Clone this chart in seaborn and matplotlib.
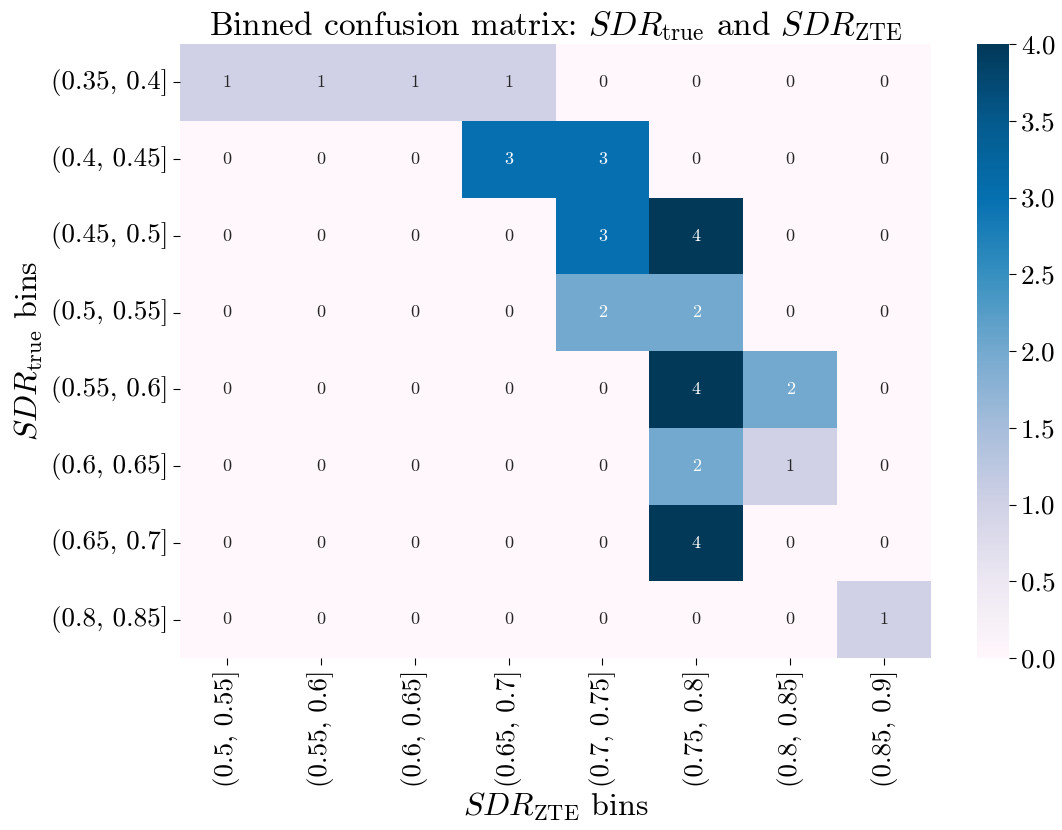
import numpy as np
import pandas as pd
import seaborn as sns
import matplotlib
matplotlib.use("Agg")
import matplotlib.pyplot as plt

row_labels = ["(0.35, 0.4]", "(0.4, 0.45]", "(0.45, 0.5]", "(0.5, 0.55]",
              "(0.55, 0.6]", "(0.6, 0.65]", "(0.65, 0.7]", "(0.8, 0.85]"]
col_labels = ["(0.5, 0.55]", "(0.55, 0.6]", "(0.6, 0.65]", "(0.65, 0.7]",
              "(0.7, 0.75]", "(0.75, 0.8]", "(0.8, 0.85]", "(0.85, 0.9]"]
counts = [
    [1, 1, 1, 1, 0, 0, 0, 0],
    [0, 0, 0, 3, 3, 0, 0, 0],
    [0, 0, 0, 0, 3, 4, 0, 0],
    [0, 0, 0, 0, 2, 2, 0, 0],
    [0, 0, 0, 0, 0, 4, 2, 0],
    [0, 0, 0, 0, 0, 2, 1, 0],
    [0, 0, 0, 0, 0, 4, 0, 0],
    [0, 0, 0, 0, 0, 0, 0, 1],
]
cbar_ticks = [0, 0.5, 1, 1.5, 2, 2.5, 3, 3.5, 4]
cbar_labels = ["0.0", "0.5", "1.0", "1.5", "2.0", "2.5", "3.0", "3.5", "4.0"]

plt.rcParams['font.family'] = 'serif'
plt.rcParams['font.serif'] = ['cmr10', 'DejaVu Serif']
plt.rcParams['mathtext.fontset'] = 'cm'
plt.rcParams['axes.formatter.use_mathtext'] = True

df = pd.DataFrame(counts, index=row_labels, columns=col_labels)

fig = plt.figure(figsize=(10.62, 8.3), dpi=100)
ax = fig.add_axes([180/1062, 1-658/830, 751/1062, 614/830])
cax = fig.add_axes([977/1062, 1-658/830, 32/1062, 614/830])

sns.heatmap(df, ax=ax, cbar_ax=cax, cmap="PuBu", annot=True, fmt="d",
            annot_kws={"fontsize": 13}, vmin=0, vmax=4)

ax.set_title(r"Binned confusion matrix: $SDR_{\mathrm{true}}$ and $SDR_{\mathrm{ZTE}}$",
             fontsize=24, pad=6)
ax.set_xlabel(r"$SDR_{\mathrm{ZTE}}$ bins", fontsize=23, labelpad=2)
ax.set_ylabel(r"$SDR_{\mathrm{true}}$ bins", fontsize=23, labelpad=4)
ax.tick_params(axis='both', labelsize=19.5, length=5)
ax.set_xticklabels(col_labels, rotation=90)
ax.set_yticklabels(row_labels, rotation=0)
cax.tick_params(labelsize=19.5, length=5)
cax.set_yticks(cbar_ticks)
cax.set_yticklabels(cbar_labels)

fig.savefig("out.png", dpi=100)
